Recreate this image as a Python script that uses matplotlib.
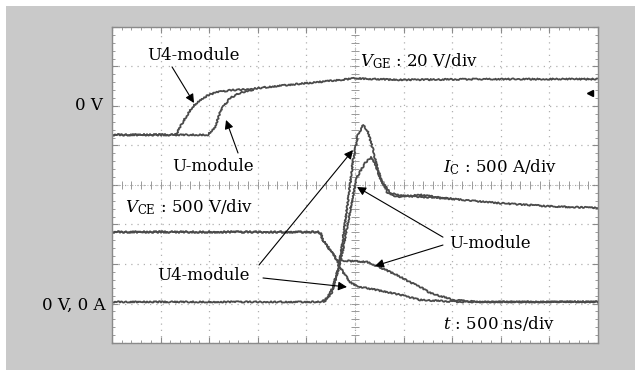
import numpy as np
import matplotlib
matplotlib.use("Agg")
import matplotlib.pyplot as plt
from matplotlib.patches import Rectangle

plt.rcParams["font.family"] = "DejaVu Serif"
plt.rcParams["mathtext.fontset"] = "dejavuserif"

# traces in scope divisions (x: 0..10, y: 0..8)
vge_u4_x = [0, 1.32, 1.40, 1.52, 1.65, 1.81, 1.97, 2.16, 2.45, 2.84, 3.5, 4.28, 5.0, 5.9, 7.5, 10]
vge_u4_y = [5.27, 5.27, 5.47, 5.72, 5.97, 6.15, 6.27, 6.35, 6.40, 6.43, 6.52, 6.61, 6.70, 6.66, 6.68, 6.68]
vge_u_x = [0, 1.975, 2.12, 2.22, 2.28, 2.43, 2.63, 2.84, 2.90]
vge_u_y = [5.27, 5.27, 5.47, 5.82, 5.97, 6.20, 6.33, 6.40, 6.41]

vce_u4_x = [0, 4.24, 4.30, 4.34, 4.49, 4.63, 4.75, 4.90, 5.04, 5.45, 5.93, 6.34, 7.16, 10]
vce_u4_y = [2.81, 2.81, 2.76, 2.61, 2.35, 2.10, 1.80, 1.54, 1.44, 1.34, 1.22, 1.09, 1.04, 1.04]
vce_u_x = [0, 4.24, 4.30, 4.34, 4.53, 4.63, 4.84, 5.25, 5.45, 5.86, 6.13, 6.34, 6.54, 7.02, 7.51, 10]
vce_u_y = [2.81, 2.81, 2.76, 2.61, 2.28, 2.10, 2.08, 2.05, 1.95, 1.72, 1.54, 1.42, 1.27, 1.09, 1.04, 1.04]

ic_u4_x = [0, 4.26, 4.32, 4.44, 4.55, 4.69, 4.86, 4.96, 5.06, 5.17, 5.27, 5.37, 5.47, 5.58, 5.72, 5.93, 6.34, 6.96, 7.98, 9.01, 10]
ic_u4_y = [1.04, 1.04, 1.04, 1.17, 1.42, 2.10, 3.62, 4.63, 5.27, 5.52, 5.34, 4.89, 4.38, 4.05, 3.80, 3.73, 3.70, 3.65, 3.54, 3.46, 3.42]
ic_u_x = [4.36, 4.51, 4.63, 4.75, 4.94, 5.04, 5.21, 5.33, 5.41, 5.51, 5.66, 5.86, 6.34, 6.96]
ic_u_y = [1.04, 1.24, 1.72, 2.35, 3.62, 4.20, 4.56, 4.71, 4.56, 4.20, 3.82, 3.70, 3.75, 3.65]

fig = plt.figure(figsize=(6.35, 3.7), dpi=100)
bg = Rectangle((6 / 635, 0), 1, (370 - 6) / 370, transform=fig.transFigure,
               facecolor="#c9c9c9", edgecolor="none", zorder=-10)
fig.add_artist(bg)

ax = fig.add_axes([112 / 635, 27 / 370, 486 / 635, 316 / 370])
ax.set_zorder(5)
ax.set_xlim(0, 10)
ax.set_ylim(0, 8)
ax.set_facecolor("white")
for s in ax.spines.values():
    s.set_color("#8a8a8a")
    s.set_linewidth(1.0)

ax.set_xticks(range(11))
ax.set_yticks(range(9))
ax.set_xticks(np.arange(0, 10.01, 0.2), minor=True)
ax.set_yticks(np.arange(0, 8.01, 0.2), minor=True)
ax.tick_params(which="both", direction="in", top=True, right=True,
               labelbottom=False, labelleft=False, color="#8a8a8a")
ax.tick_params(which="major", length=4)
ax.tick_params(which="minor", length=2.5)
ax.grid(True, which="major", color="#b0b0b0", linestyle=(0, (1, 4)), linewidth=0.9)

# centre crosshair with tick marks
ax.axvline(5, color="#a0a0a0", lw=0.6, linestyle=(0, (1, 2)))
ax.axhline(4, color="#a0a0a0", lw=0.6, linestyle=(0, (1, 2)))
tk_y = np.arange(0, 8.01, 0.2)
tk_x = np.arange(0, 10.01, 0.2)
ax.plot([5] * len(tk_y), tk_y, linestyle="none", marker="_", ms=6, mew=0.7, color="#999999")
ax.plot(tk_x, [4] * len(tk_x), linestyle="none", marker="|", ms=6, mew=0.7, color="#999999")

trace = dict(color="#4a4a4a", lw=1.3, solid_joinstyle="round")
for xs, ys in [(vge_u4_x, vge_u4_y), (vge_u_x, vge_u_y), (vce_u4_x, vce_u4_y),
               (vce_u_x, vce_u_y), (ic_u4_x, ic_u4_y), (ic_u_x, ic_u_y)]:
    ln, = ax.plot(xs, ys, **trace)
    ln.set_sketch_params(scale=0.7, length=3, randomness=3)

# reference marker on the right
ax.plot([9.84], [6.33], marker="<", color="black", ms=5, linestyle="none")

fs = 12
arr = dict(arrowstyle="-|>", color="black", lw=0.8, mutation_scale=13, shrinkA=0, shrinkB=0)

ax.text(1.667, 7.29, "U4-module", fontsize=fs, ha="center", va="center")
ax.annotate("", xy=(1.687, 6.076), xytext=(1.235, 6.99), arrowprops=arr)
ax.text(2.078, 4.48, "U-module", fontsize=fs, ha="center", va="center")
ax.annotate("", xy=(2.346, 5.646), xytext=(2.593, 4.81), arrowprops=arr)

ax.text(5.10, 7.14, r"$V_{\rm GE}$ : 20 V/div", fontsize=fs, ha="left", va="center")
ax.text(6.81, 4.46, r"$I_{\rm C}$ : 500 A/div", fontsize=fs, ha="left", va="center")
ax.text(0.267, 3.44, r"$V_{\rm CE}$ : 500 V/div", fontsize=fs, ha="left", va="center")
ax.text(6.81, 0.506, r"$t$ : 500 ns/div", fontsize=fs, ha="left", va="center")

ax.text(1.872, 1.72, "U4-module", fontsize=fs, ha="center", va="center")
ax.annotate("", xy=(4.959, 4.886), xytext=(3.025, 1.975), arrowprops=arr)
ax.annotate("", xy=(4.835, 1.418), xytext=(3.107, 1.646), arrowprops=arr)

ax.text(7.778, 2.53, "U-module", fontsize=fs, ha="center", va="center")
ax.annotate("", xy=(5.041, 3.95), xytext=(6.81, 2.68), arrowprops=arr)
ax.annotate("", xy=(5.41, 1.95), xytext=(6.81, 2.48), arrowprops=arr)

ax.text(-0.185, 6.0, "0 V", fontsize=fs, ha="right", va="center", clip_on=False)
ax.text(-0.144, 0.95, "0 V, 0 A", fontsize=fs, ha="right", va="center", clip_on=False)

fig.savefig("out.png", dpi=100)
